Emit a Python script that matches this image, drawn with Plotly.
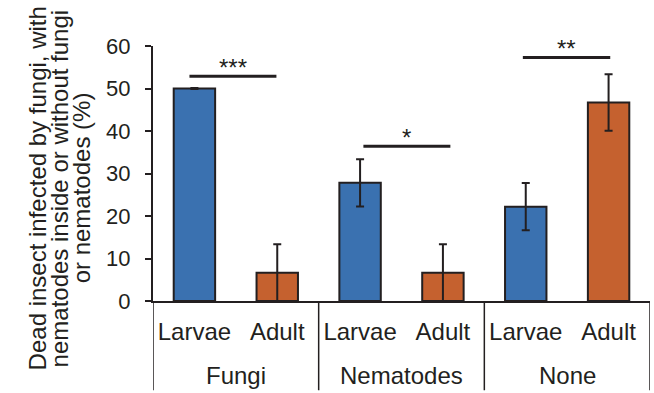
import plotly.graph_objects as go

groups = ["Fungi", "Nematodes", "None"]
stages = ["Larvae", "Adult", "Larvae", "Adult", "Larvae", "Adult"]
categories = ["Fungi|Larvae", "Fungi|Adult", "Nematodes|Larvae",
              "Nematodes|Adult", "None|Larvae", "None|Adult"]
values = [50.0, 6.67, 27.8, 6.67, 22.2, 46.7]
errors = [0.1, 6.67, 5.55, 6.67, 5.55, 6.67]
colors = ["#3A71B0", "#C5612F", "#3A71B0", "#C5612F", "#3A71B0", "#C5612F"]

# significance brackets: (x start index, x end index, y level, label)
sig_x0 = [-0.06, 2.04, 3.965]
sig_x1 = [0.99, 3.09, 5.02]
sig_y = [52.9, 36.4, 57.3]
sig_labels = ["***", "*", "**"]

ytitle_lines = ["Dead insect infected by fungi, with",
                "nematodes inside or without fungi",
                "or nematodes (%)"]

ink = "#231F20"
font = "Liberation Sans, Arial, sans-serif"

fig = go.Figure()
fig.add_trace(go.Bar(
    x=categories, y=values, width=0.5,
    marker=dict(color=colors, line=dict(color=ink, width=2)),
    error_y=dict(type="data", array=errors, color=ink, thickness=2, width=4),
    showlegend=False, hoverinfo="skip",
))

for x0, x1, y, lab in zip(sig_x0, sig_x1, sig_y, sig_labels):
    fig.add_shape(type="line", xref="x", yref="y", x0=x0, x1=x1, y0=y, y1=y,
                  line=dict(color=ink, width=3))
    fig.add_annotation(x=(x0 + x1) / 2, y=y, xref="x", yref="y", text=lab,
                       showarrow=False, yanchor="bottom", yshift=-7,
                       font=dict(size=24, color=ink, family=font))

# group labels and dividers
for i, g in enumerate(groups):
    fig.add_annotation(x=2 * i + 0.5, y=-0.294, xref="x", yref="paper", text=g,
                       showarrow=False, yanchor="middle",
                       font=dict(size=24, color=ink, family=font))
for d in [-0.5, 1.5, 3.5, 5.5]:
    fig.add_shape(type="line", xref="x", yref="paper", x0=d, x1=d,
                  y0=0, y1=-0.35, line=dict(color=ink, width=1.5))

xs = [-0.2327, -0.1884, -0.1442]
for xp, t in zip(xs, ytitle_lines):
    fig.add_annotation(x=xp, y=0.443, xref="paper", yref="paper", text=t,
                       textangle=-90, showarrow=False, xanchor="center",
                       yanchor="middle",
                       font=dict(size=24, color=ink, family=font))

fig.update_layout(
    width=654, height=393,
    margin=dict(l=153, r=4, t=46, b=92),
    paper_bgcolor="white", plot_bgcolor="white",
    font=dict(family=font, color=ink),
    hovermode=False,
)
fig.update_xaxes(
    type="category", showline=True, linecolor=ink, linewidth=2,
    ticks="", showgrid=False, tickfont=dict(size=24, color=ink),
    tickvals=categories, ticktext=stages, ticklabelstandoff=8,
    range=[-0.5, 5.5], automargin=False,
)
fig.update_yaxes(
    range=[0, 60], dtick=10, showline=True, linecolor=ink, linewidth=2,
    ticks="outside", ticklen=6, tickwidth=1.5, tickcolor=ink,
    showgrid=False, zeroline=False, tickfont=dict(size=22, color=ink),
    ticklabelstandoff=10, automargin=False,
)

fig.write_html("out.html", config={"displayModeBar": False},
               post_script="document.body.style.margin='0';")
